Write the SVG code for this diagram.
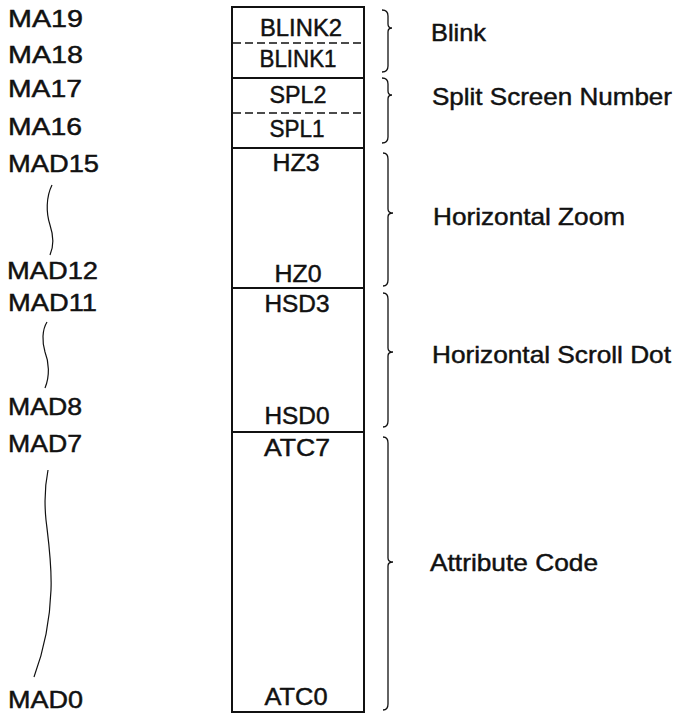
<svg xmlns="http://www.w3.org/2000/svg" width="676" height="714" viewBox="0 0 676 714">
<style>
text{font-family:"Liberation Sans",Arial,Helvetica,sans-serif;font-size:23px;fill:#111;stroke:#111;stroke-width:0.45}
.c{text-anchor:middle}
.r{font-size:24px}
.box{fill:none;stroke:#111;stroke-width:2}
.sep{stroke:#111;stroke-width:2;fill:none}
.dash{stroke:#111;stroke-width:1.6;stroke-dasharray:8 4;fill:none}
.br{fill:none;stroke:#111;stroke-width:1.3}
.sq{fill:none;stroke:#111;stroke-width:1.2}
</style>
<rect width="676" height="714" fill="#fff"/>
<g id="register">
<rect class="box" x="232" y="7" width="132" height="705"/>
<line class="sep" x1="364" y1="6" x2="364" y2="713" stroke-width="3"/>
<g id="blink-field">
<line class="dash" x1="233" y1="43" x2="363" y2="43"/>
<text class="c" x="301" y="36" textLength="82" lengthAdjust="spacingAndGlyphs">BLINK2</text>
<text class="c" x="298" y="67" textLength="77" lengthAdjust="spacingAndGlyphs">BLINK1</text>
</g>
<line class="sep" x1="232" y1="78" x2="364" y2="78"/>
<g id="spl-field">
<line class="dash" x1="233" y1="113" x2="363" y2="113"/>
<text class="c" x="298" y="103" textLength="57" lengthAdjust="spacingAndGlyphs">SPL2</text>
<text class="c" x="297" y="137" textLength="55" lengthAdjust="spacingAndGlyphs">SPL1</text>
</g>
<line class="sep" x1="232" y1="148" x2="364" y2="148"/>
<g id="hz-field">
<text class="c" x="296" y="171" textLength="47" lengthAdjust="spacingAndGlyphs">HZ3</text>
<text class="c" x="298" y="282" textLength="47" lengthAdjust="spacingAndGlyphs">HZ0</text>
</g>
<line class="sep" x1="232" y1="288" x2="364" y2="288"/>
<g id="hsd-field">
<text class="c" x="297" y="312" textLength="65" lengthAdjust="spacingAndGlyphs">HSD3</text>
<text class="c" x="297" y="424" textLength="65" lengthAdjust="spacingAndGlyphs">HSD0</text>
</g>
<line class="sep" x1="232" y1="432" x2="364" y2="432"/>
<g id="atc-field">
<text class="c" x="297" y="456" textLength="66" lengthAdjust="spacingAndGlyphs">ATC7</text>
<text class="c" x="296" y="705" textLength="63" lengthAdjust="spacingAndGlyphs">ATC0</text>
</g>
</g>
<g id="address-labels">
<text x="8" y="27" textLength="75" lengthAdjust="spacingAndGlyphs">MA19</text>
<text x="8" y="63" textLength="75" lengthAdjust="spacingAndGlyphs">MA18</text>
<text x="8" y="97" textLength="74" lengthAdjust="spacingAndGlyphs">MA17</text>
<text x="8" y="135" textLength="74" lengthAdjust="spacingAndGlyphs">MA16</text>
<text x="8" y="172" textLength="91" lengthAdjust="spacingAndGlyphs">MAD15</text>
<text x="7" y="279" textLength="91" lengthAdjust="spacingAndGlyphs">MAD12</text>
<text x="8" y="311" textLength="89" lengthAdjust="spacingAndGlyphs">MAD11</text>
<text x="8" y="415" textLength="74" lengthAdjust="spacingAndGlyphs">MAD8</text>
<text x="8" y="452" textLength="74" lengthAdjust="spacingAndGlyphs">MAD7</text>
<text x="8" y="708" textLength="75" lengthAdjust="spacingAndGlyphs">MAD0</text>
</g>
<g id="field-names">
<text class="r" x="431" y="41" textLength="55" lengthAdjust="spacingAndGlyphs">Blink</text>
<text class="r" x="432" y="105" textLength="240" lengthAdjust="spacingAndGlyphs">Split Screen Number</text>
<text class="r" x="433" y="225" textLength="192" lengthAdjust="spacingAndGlyphs">Horizontal Zoom</text>
<text class="r" x="432" y="363" textLength="239" lengthAdjust="spacingAndGlyphs">Horizontal Scroll Dot</text>
<text class="r" x="430" y="571" textLength="168" lengthAdjust="spacingAndGlyphs">Attribute Code</text>
</g>
<g id="connectors">
<path class="br" d="M382,10 Q388,10 388,16 L388,24 Q388,28 392,28 Q388,28 388,32 L388,66 Q388,72 382,72"/>
<path class="br" d="M382,78 Q388,78 388,84 L388,91 Q388,95 392,95 Q388,95 388,99 L388,137 Q388,143 382,143"/>
<path class="br" d="M383,153 Q388,153 388,159 L388,209 Q388,213 393,213 Q388,213 388,217 L388,280 Q388,286 383,286"/>
<path class="br" d="M383,293 Q388,293 388,299 L388,348 Q388,352 393,352 Q388,352 388,356 L388,421 Q388,427 383,427"/>
<path class="br" d="M383,437 Q388,437 388,443 L388,558 Q388,562 393,562 Q388,562 388,566 L388,704 Q388,710 383,710"/>
<path class="sq" d="M52,185 C46,197 46,213 50,225 C54,237 54,246 50,255"/>
<path class="sq" d="M47,322 C42,330 42,342 45,352 C49,362 50,376 45,388"/>
<path class="sq" d="M48,470 C45,485 44,500 46,520 C49,545 52,565 51,590 C50,620 44,650 34,677"/>
</g>
</svg>
